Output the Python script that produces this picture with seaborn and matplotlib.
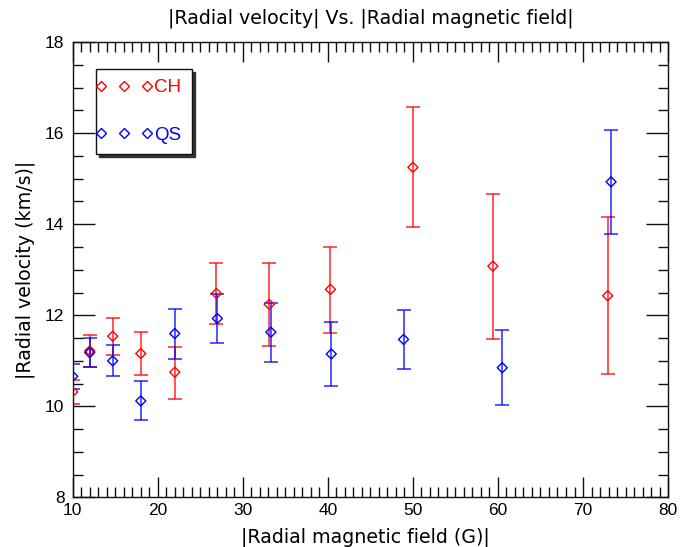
import numpy as np
import pandas as pd
import matplotlib
matplotlib.use("Agg")
import matplotlib.pyplot as plt
from matplotlib.lines import Line2D
from matplotlib.legend_handler import HandlerLine2D
from matplotlib.ticker import MultipleLocator
import seaborn as sns

# ---- data ----
ch_b = [10.0, 12.0, 14.7, 18.0, 22.0, 26.9, 33.1, 40.3, 50.0, 59.4, 72.9]
ch_v = [10.32, 11.22, 11.54, 11.16, 10.75, 12.48, 12.24, 12.57, 15.25, 13.08, 12.43]
ch_lo = [10.05, 10.86, 11.12, 10.69, 10.17, 11.80, 11.32, 11.61, 13.94, 11.47, 10.71]
ch_hi = [10.59, 11.56, 11.93, 11.63, 11.31, 13.15, 13.15, 13.50, 16.57, 14.67, 14.16]

qs_b = [10.0, 12.0, 14.7, 18.0, 22.0, 27.0, 33.3, 40.4, 48.9, 60.5, 73.3]
qs_v = [10.66, 11.18, 11.00, 10.12, 11.60, 11.93, 11.63, 11.15, 11.47, 10.85, 14.93]
qs_lo = [10.39, 10.87, 10.66, 9.71, 11.05, 11.39, 10.98, 10.45, 10.83, 10.03, 13.79]
qs_hi = [10.92, 11.50, 11.34, 10.55, 12.13, 12.47, 12.27, 11.86, 12.11, 11.67, 16.07]

groups = ["CH", "QS"]
colors = {"CH": "#ff0000", "QS": "#0000ff"}

df = pd.concat([
    pd.DataFrame({"B": ch_b, "V": ch_v, "lo": ch_lo, "hi": ch_hi, "grp": "CH"}),
    pd.DataFrame({"B": qs_b, "V": qs_v, "lo": qs_lo, "hi": qs_hi, "grp": "QS"}),
], ignore_index=True)

sns.set_theme(style="ticks")
plt.rcParams["font.family"] = ["DejaVu Sans"]
plt.rcParams["text.color"] = "black"
plt.rcParams["axes.labelcolor"] = "black"

fig = plt.figure(figsize=(6.81, 5.47), dpi=100)
ax = fig.add_axes([0.1068, 0.0905, 0.8742, 0.8327])

for g in groups:
    d = df[df.grp == g]
    ax.errorbar(d.B, d.V, yerr=[d.V - d.lo, d.hi - d.V], fmt="none",
                ecolor=colors[g], elinewidth=1.1, capsize=4.7, capthick=1.1,
                alpha=0.85, zorder=2)

sns.scatterplot(data=df, x="B", y="V", hue="grp", palette=colors, marker="D",
                s=26, linewidth=1.0, legend=False, ax=ax, zorder=3)
# open diamonds: edge colour from hue
coll = ax.collections[-1]
coll.set_edgecolors(coll.get_facecolors())
coll.set_facecolors("none")

ax.set_xlim(10, 80)
ax.set_ylim(8, 18)
ax.xaxis.set_major_locator(MultipleLocator(10))
ax.xaxis.set_minor_locator(MultipleLocator(1))
ax.yaxis.set_major_locator(MultipleLocator(2))
ax.yaxis.set_minor_locator(MultipleLocator(0.5))
ax.tick_params(which="both", direction="in", top=True, right=True,
               color="#111111", width=1.0)
ax.tick_params(axis="x", which="major", length=14.5, pad=4)
ax.tick_params(axis="x", which="minor", length=7)
ax.tick_params(axis="y", which="major", length=15.5, pad=6)
ax.tick_params(axis="y", which="minor", length=7.5)
ax.tick_params(axis="both", which="major", labelsize=12.5, labelcolor="black")
for lab in ax.get_xticklabels() + ax.get_yticklabels():
    lab.set_family("Liberation Sans")
for s in ax.spines.values():
    s.set_linewidth(1.0)
    s.set_color("#111111")

ax.set_xlabel("|Radial magnetic field (G)|", fontsize=13.7, labelpad=4, color="black")
ax.xaxis.set_label_coords(0.4916, -0.065)
ax.set_ylabel("|Radial velocity (km/s)|", fontsize=13.7, labelpad=7, color="black")
ax.set_title("|Radial velocity| Vs. |Radial magnetic field|", fontsize=13.7, pad=13,
             color="black")

handles = [Line2D([], [], linestyle="none", marker="D", markersize=4.9,
                  markerfacecolor="none", markeredgecolor=colors[g],
                  markeredgewidth=1.0) for g in groups]
leg = ax.legend(handles, groups, loc="upper left", bbox_to_anchor=(0.039, 0.941),
                numpoints=3, handlelength=1.93, handletextpad=0.62,
                labelspacing=1.62, borderpad=0.55, fancybox=False,
                shadow={"color": "0.2", "alpha": 1.0, "ox": 2.2, "oy": -2.2},
                frameon=True, prop={"family": "Liberation Sans", "size": 13.5},
                labelcolor="markeredgecolor", borderaxespad=0,
                handler_map={Line2D: HandlerLine2D(marker_pad=-0.26)})
leg.get_frame().set_edgecolor("#111111")
leg.get_frame().set_linewidth(1.0)

fig.savefig("out.png", dpi=100)
